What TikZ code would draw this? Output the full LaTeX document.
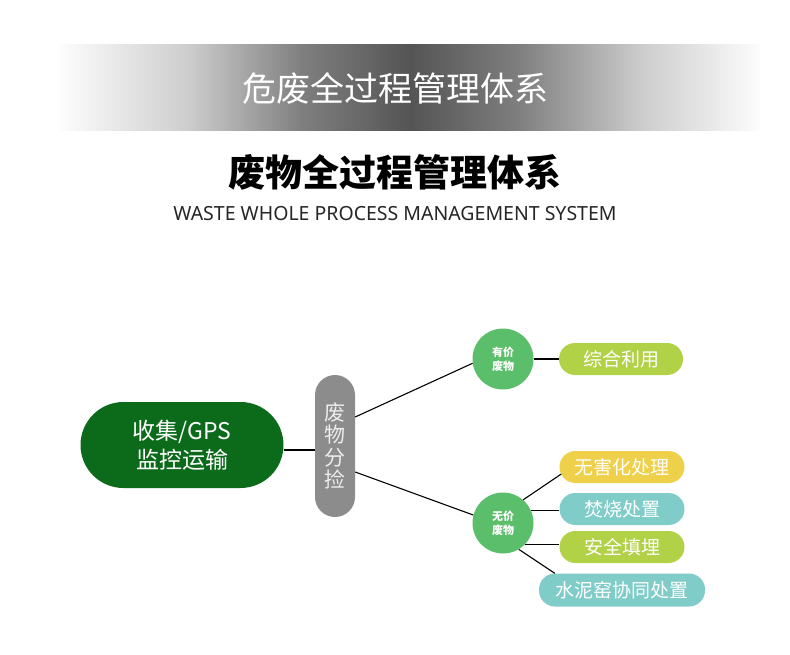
\documentclass[tikz,border=0pt]{standalone}
\usepackage{fontspec}
\setmainfont{Noto Sans CJK SC}
\newfontfamily\latinfont{Noto Sans}
\definecolor{darkgreen}{HTML}{0C6B1B}
\definecolor{pillgray}{HTML}{8C8C8C}
\definecolor{circgreen}{HTML}{5BBE6A}
\definecolor{lime}{HTML}{B1D147}
\definecolor{mustard}{HTML}{EED04A}
\definecolor{teal}{HTML}{80CCC8}
\begin{document}
\begin{tikzpicture}[x=1pt,y=-1pt,
  pill/.style={rectangle, rounded corners=16pt, minimum height=32pt, text=white,
    font=\fontsize{19}{19}\selectfont, inner sep=0pt},
  wcirc/.style={circle, fill=circgreen, minimum size=61pt, inner sep=0pt, text=white,
    align=center, font=\bfseries\fontsize{11}{14}\selectfont},
  conn/.style={draw=black, line width=1.1pt}]
\useasboundingbox (0,0) rectangle (790,655);
\fill[white] (0,0) rectangle (790,655);
% banner
\shade[left color=white!99!black, right color=black!20] (60,45) rectangle (191,131);
\shade[left color=black!20, right color=black!50] (190,45) rectangle (301,131);
\shade[left color=black!50, right color=black!67] (300,45) rectangle (411,131);
\shade[left color=black!67, right color=black!50] (410,45) rectangle (521,131);
\shade[left color=black!50, right color=black!20] (520,45) rectangle (641,131);
\shade[left color=black!20, right color=white!99!black] (640,45) rectangle (760,131);
\node[text=white, font=\fontsize{34}{34}\selectfont] (bt) at (395,88) {危废全过程管理体系};
\node[text=black, font=\bfseries\fontsize{37}{37}\selectfont] (tt) at (395,172) {废物全过程管理体系};
\node[text=black!85, font=\latinfont\fontsize{19.5}{19.5}\selectfont] (st) at (395,214) {WASTE WHOLE PROCESS MANAGEMENT SYSTEM};
% main nodes
\node[rectangle, rounded corners=43pt, fill=darkgreen, minimum width=203pt, minimum height=86pt,
  text=white, align=center, inner sep=0pt, font=\fontsize{23}{29}\selectfont] (gm) at (182,445)
  {收集/GPS\\监控运输};
\node[rectangle, rounded corners=20pt, fill=pillgray, minimum width=40pt, minimum height=142pt,
  text=white!93!black, align=center, inner sep=0pt, font=\fontsize{21}{22.5}\selectfont] (gp) at (335,446)
  {废\\物\\分\\捡};
\node[wcirc] (c1) at (503,359) {有价\\废物};
\node[wcirc] (c2) at (503,523) {无价\\废物};
\node[pill, fill=lime, minimum width=124pt] (q1) at (621,359) {综合利用};
\node[pill, fill=mustard, minimum width=125pt] (p1) at (622,467) {无害化处理};
\node[pill, fill=teal, minimum width=125pt] (p2) at (622,509) {焚烧处置};
\node[pill, fill=lime, minimum width=125pt] (p3) at (622,547) {安全填埋};
\node[pill, fill=teal, minimum width=166pt, minimum height=33pt] (p4) at (622,590) {水泥窑协同处置};
% connectors
\draw[conn] ([yshift=-5pt]gm.east) -- ([yshift=-5pt]gm.east -| gp.west);
\draw[conn] ([yshift=29pt]gp.east) -- (c1.188);
\draw[conn] ([yshift=-26pt]gp.east) -- (c2.165);
\draw[conn] (c1.east) -- (q1.west);
\draw[conn] (c2.49) -- ([yshift=-7pt,xshift=2pt]p1.west);
\draw[conn] (c2.24) -- (c2.24 -| p2.west);
\draw[conn] (c2.-45) -- (c2.-45 -| p3.west);
\draw[conn] (c2.-59) -- ([xshift=16pt]p4.north west);
\end{tikzpicture}
\end{document}
